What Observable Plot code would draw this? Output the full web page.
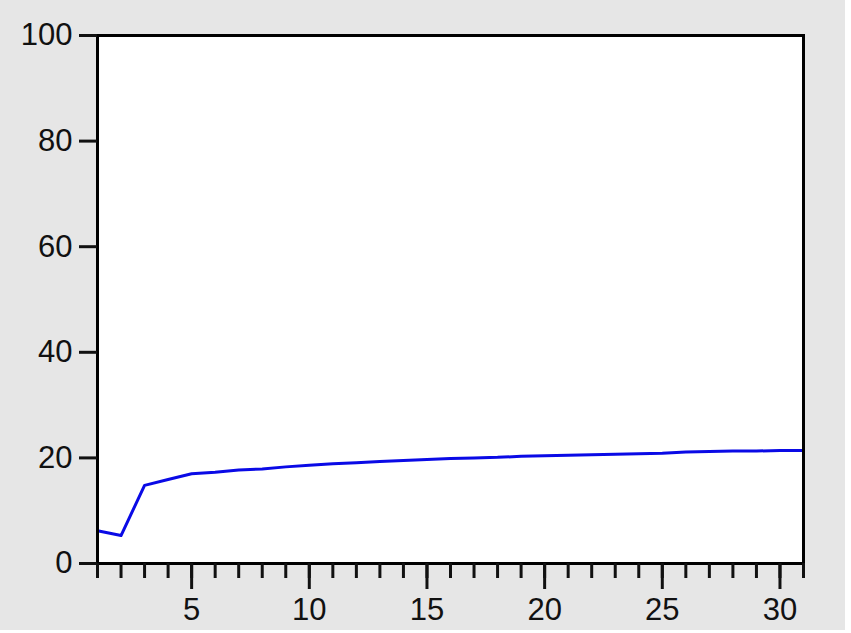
<!DOCTYPE html>
<html>
<head>
<meta charset="utf-8">
<script src="https://cdn.jsdelivr.net/npm/d3@7"></script>
<script src="https://cdn.jsdelivr.net/npm/@observablehq/plot@0.6"></script>
<style>
  html, body { margin: 0; padding: 0; background: #ffffff; }
  #chart { width: 845px; height: 630px; background: #e6e6e6; }
  svg { display: block; }
</style>
</head>
<body>
<div id="chart"></div>
<script>
// Periods (x) and series values (y)
const periods = [1,2,3,4,5,6,7,8,9,10,11,12,13,14,15,16,17,18,19,20,21,22,23,24,25,26,27,28,29,30,31];
const values  = [6.2,5.3,14.8,15.9,17.0,17.3,17.7,17.9,18.3,18.6,18.9,19.1,19.3,19.5,19.7,19.9,20.0,20.1,20.3,20.4,20.5,20.6,20.7,20.8,20.9,21.1,21.2,21.3,21.3,21.4,21.4];
const yTicks = [0,20,40,60,80,100];
const xMinorTicks = periods;
const xMajorTicks = [5,10,15,20,25,30];

const data = periods.map((p, i) => ({period: p, value: values[i]}));

const chart = Plot.plot({
  width: 845,
  height: 630,
  marginLeft: 97,
  marginRight: 42,
  marginTop: 35,
  marginBottom: 67,
  style: {
    background: "#e6e6e6",
    fontFamily: "'Liberation Sans', Arial, sans-serif",
    fontSize: "31px",
    color: "#111"
  },
  x: {domain: [1, 31]},
  y: {domain: [0, 100]},
  marks: [
    Plot.frame({fill: "white", stroke: null}),
    Plot.line(data, {x: "period", y: "value", stroke: "#0a0ae6", strokeWidth: 3}),
    Plot.frame({stroke: "black", strokeWidth: 3}),
    Plot.axisY({ticks: yTicks, tickSize: 18, tickPadding: 7, strokeWidth: 3, label: null, tickFormat: d => String(d)}),
    Plot.axisX({ticks: xMinorTicks, tickSize: 15, tickFormat: () => "", strokeWidth: 3, label: null}),
    Plot.axisX({ticks: xMajorTicks, tickSize: 26, tickPadding: 8, strokeWidth: 3, label: null, tickFormat: d => String(d)})
  ]
});
document.getElementById("chart").appendChild(chart);
</script>
</body>
</html>
